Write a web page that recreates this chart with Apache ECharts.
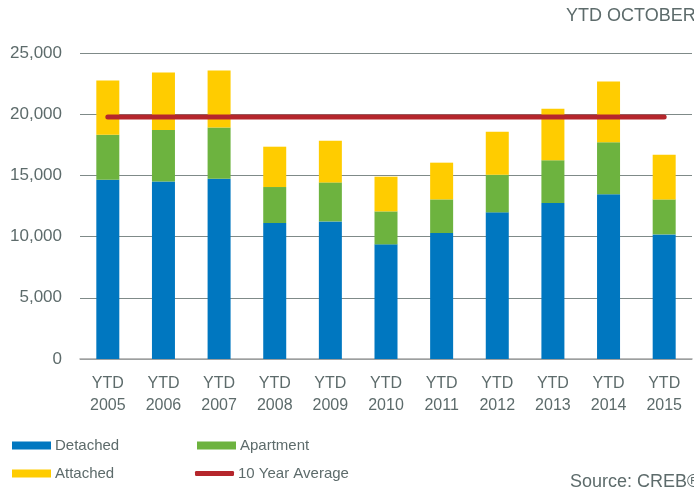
<!DOCTYPE html>
<html>
<head>
<meta charset="utf-8">
<script src="https://cdn.jsdelivr.net/npm/echarts@6/dist/echarts.min.js"></script>
<style>
  html, body { margin: 0; padding: 0; background: #fff; }
  #main { width: 694px; height: 491px; }
</style>
</head>
<body>
<div id="main"></div>
<script>
// sales by property type, YTD October
var years = ['YTD\n2005', 'YTD\n2006', 'YTD\n2007', 'YTD\n2008', 'YTD\n2009', 'YTD\n2010',
             'YTD\n2011', 'YTD\n2012', 'YTD\n2013', 'YTD\n2014', 'YTD\n2015'];
var detached  = [14650, 14510, 14730, 11110, 11240, 9365, 10295, 11980, 12745, 13450, 10180];
var apartment = [3675, 4200, 4190, 2940, 3190, 2695, 2745, 3080, 3485, 4250, 2860];
var attached  = [4435, 4705, 4660, 3295, 3405, 2835, 3000, 3510, 4220, 4980, 3650];
var average   = [19770, 19770, 19770, 19770, 19770, 19770, 19770, 19770, 19770, 19770, 19770];

var textColor = '#5d6b6b';
var myChart = echarts.init(document.getElementById('main'));

function legendItem(name, left, top, icon, h) {
    return {
        data: [name],
        left: left,
        top: top,
        icon: icon,
        itemWidth: 39,
        itemHeight: h,
        itemGap: 0,
        selectedMode: false,
        textStyle: { color: textColor, fontSize: 15, fontFamily: 'Liberation Sans', padding: [0, 0, 0, -1] }
    };
}

var option = {
    animation: false,
    title: [{
        text: 'YTD OCTOBER',
        left: 561,
        top: 2,
        textStyle: { color: textColor, fontSize: 18, fontWeight: 'normal', fontFamily: 'Liberation Sans' }
    }, {
        text: 'Source: CREB®',
        left: 565,
        top: 468,
        textStyle: { color: textColor, fontSize: 18, fontWeight: 'normal', fontFamily: 'Liberation Sans' }
    }],
    legend: [
        legendItem('Detached', 7, 433, 'rect', 8),
        legendItem('Apartment', 192, 433, 'rect', 8),
        legendItem('Attached', 7, 461, 'rect', 8),
        legendItem('10 Year Average', 190, 461, 'roundRect', 5)
    ],
    grid: { left: 80, right: 2, top: 53, bottom: 132 },
    xAxis: {
        type: 'category',
        data: years,
        axisLine: { lineStyle: { color: '#a6a6a6', width: 1.5 } },
        axisTick: { show: false },
        axisLabel: { color: textColor, fontSize: 16, fontFamily: 'Liberation Sans', lineHeight: 22, margin: 14 }
    },
    yAxis: {
        type: 'value',
        min: 0,
        max: 25000,
        interval: 5000,
        axisLine: { show: false },
        axisTick: { show: false },
        axisLabel: {
            color: textColor, fontSize: 17, fontFamily: 'Liberation Sans', margin: 18,
            formatter: function (v) { return v.toLocaleString('en-US'); }
        },
        splitLine: { lineStyle: { color: '#7f8a88', width: 1.2 } }
    },
    series: [
        { name: 'Detached', type: 'bar', stack: 'total', barWidth: 23, data: detached,
          itemStyle: { color: '#0077c0' } },
        { name: 'Apartment', type: 'bar', stack: 'total', data: apartment,
          itemStyle: { color: '#6db33f' } },
        { name: 'Attached', type: 'bar', stack: 'total', data: attached,
          itemStyle: { color: '#ffcc00' } },
        { name: '10 Year Average', type: 'line', data: average, symbol: 'none',
          lineStyle: { color: '#b5262c', width: 5, cap: 'round' },
          itemStyle: { color: '#b5262c' }, z: 5 }
    ]
};
myChart.setOption(option);
</script>
</body>
</html>
